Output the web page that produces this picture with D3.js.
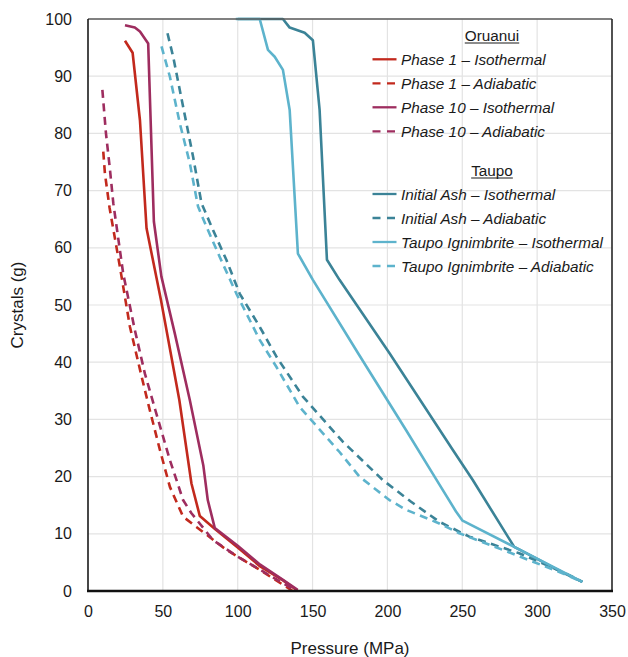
<!DOCTYPE html>
<html>
<head>
<meta charset="utf-8">
<script src="https://cdn.jsdelivr.net/npm/d3@7"></script>
<style>
  body { margin: 0; background: #fff; }
  text { font-family: Arial, "Liberation Sans", sans-serif; fill: #1a1a1a; }
</style>
</head>
<body>
<div id="chart"></div>
<script>
// [pressure (MPa), crystals (g)]
var phase1Iso = [[24.7,96.2],[29.8,94.1],[34.7,82.3],[39.1,63.4],[48.7,50.9],[61,33.4],[69.1,18.8],[74.7,13.1],[85,10.8],[100,7.6],[115,4.3],[130,1.9],[140.2,0]];
var phase1Adi = [[10.2,76.8],[11.3,73],[14.4,67],[21.3,56.7],[28,46.2],[35.8,37.5],[41.3,31.6],[48,24.7],[54.7,18.2],[63.5,13],[72.4,11.2],[92.4,7.2],[114.7,3.7],[136.7,0]];
var phase10Iso = [[24.7,98.9],[31.3,98.5],[34.7,97.8],[40.2,95.7],[44,64.6],[49,55],[58,45],[68,33.4],[77,22],[80,15.9],[84.7,11],[100,7.9],[115,4.6],[130,2],[140,0.2]];
var phase10Adi = [[9.6,87.6],[12,80],[14.7,73.6],[16.9,67.8],[23.5,55.5],[31.3,45.6],[38,38],[45,31.6],[54.7,22.9],[63.5,15.9],[69.1,13.6],[83.5,8.9],[100,6],[119,3.1],[139,0]];
var ashIso = [[100,100],[130.2,100],[134.7,98.5],[144.7,97.6],[150.2,96.3],[154.7,84.1],[159.6,57.9],[168,54.4],[201.3,41.6],[243.6,24.7],[257,19.4],[284.7,7.7],[300,5.6],[315,3.5],[330.2,1.6]];
var ashAdi = [[53.1,97.5],[56.9,93.4],[63.5,84.7],[70.2,75.9],[75.8,67.8],[83.5,63.1],[92.4,57.9],[101.3,52],[114.7,46.2],[125.8,41],[143.5,34],[170.2,26.1],[196.9,19.4],[215.8,15.6],[234.7,12.1],[254.7,9.5],[288,6.6],[319,3.1],[330.2,1.6]];
var ignIso = [[98.7,100],[114.7,100],[120.2,94.6],[124.7,93.4],[130.2,91.1],[134.7,84.1],[140.2,59],[150.2,54.4],[180.3,41.6],[212.5,28.1],[232.4,19.6],[245.8,13.9],[250.2,12.3],[284.7,7.7],[330.2,1.6]];
var ignAdi = [[49.1,95.2],[54.7,89.9],[61.3,81.8],[68,74.8],[73.5,67.2],[79.1,63.7],[88,58.4],[99.1,52],[114.7,43.9],[125.8,39.2],[141.3,32.2],[168,24.3],[181.3,20],[192.5,17.7],[201.3,15.9],[212.5,14.2],[234.7,11.8],[248,10.1],[276.9,7.2],[316.9,3.1],[330,1.6]];

var xTicks = [0, 50, 100, 150, 200, 250, 300, 350];
var yTicks = [0, 10, 20, 30, 40, 50, 60, 70, 80, 90, 100];

var red = "#c2291d", plum = "#9e2d5f", teal = "#3b8397", sky = "#5db3cc";

var series = [
    { name: "Phase 1 \u2013 Isothermal", data: phase1Iso, color: red, dash: false },
    { name: "Phase 1 \u2013 Adiabatic", data: phase1Adi, color: red, dash: true },
    { name: "Phase 10 \u2013 Isothermal", data: phase10Iso, color: plum, dash: false },
    { name: "Phase 10 \u2013 Adiabatic", data: phase10Adi, color: plum, dash: true },
    { name: "Initial Ash \u2013 Isothermal", data: ashIso, color: teal, dash: false },
    { name: "Initial Ash \u2013 Adiabatic", data: ashAdi, color: teal, dash: true },
    { name: "Taupo Ignimbrite \u2013 Isothermal", data: ignIso, color: sky, dash: false },
    { name: "Taupo Ignimbrite \u2013 Adiabatic", data: ignAdi, color: sky, dash: true }
];

var W = 628, H = 657;
var margin = { top: 19, right: 16, bottom: 66, left: 88 },
    width = W - margin.left - margin.right,
    height = H - margin.top - margin.bottom;

var svg = d3.select("#chart").append("svg")
    .attr("width", W)
    .attr("height", H);

var g = svg.append("g")
    .attr("transform", "translate(" + margin.left + "," + margin.top + ")");

var x = d3.scaleLinear().domain([0, 350]).range([0, width]);
var y = d3.scaleLinear().domain([0, 100]).range([height, 0]);

// gridlines
g.append("g").selectAll("line").data(yTicks.slice(1)).enter().append("line")
    .attr("x1", 0).attr("x2", width)
    .attr("y1", function(d) { return y(d); }).attr("y2", function(d) { return y(d); })
    .attr("stroke", "#e3e3e3").attr("stroke-width", 1.2);
g.append("g").selectAll("line").data(xTicks.slice(1)).enter().append("line")
    .attr("y1", 0).attr("y2", height)
    .attr("x1", function(d) { return x(d); }).attr("x2", function(d) { return x(d); })
    .attr("stroke", "#e3e3e3").attr("stroke-width", 1.2);

// axes (labels only)
var xAxis = g.append("g")
    .attr("transform", "translate(0," + height + ")")
    .call(d3.axisBottom(x).tickValues(xTicks).tickSize(0).tickPadding(15));
var yAxis = g.append("g")
    .call(d3.axisLeft(y).tickValues(yTicks).tickSize(0).tickPadding(16));
[xAxis, yAxis].forEach(function(a) {
    a.select(".domain").remove();
    a.selectAll("text").style("font-size", "16px")
        .style("font-family", "Arial, 'Liberation Sans', sans-serif").attr("fill", "#1a1a1a");
});

// curves
var line = d3.line()
    .x(function(d) { return x(d[0]); })
    .y(function(d) { return y(d[1]); });

g.append("g").selectAll("path").data(series).enter().append("path")
    .attr("d", function(d) { return line(d.data); })
    .attr("fill", "none")
    .attr("stroke", function(d) { return d.color; })
    .attr("stroke-width", 2.6)
    .attr("stroke-linejoin", "round")
    .attr("stroke-dasharray", function(d) { return d.dash ? "8,5.5" : null; });

// frame
g.append("line").attr("x1", 0).attr("x2", width).attr("y1", 0).attr("y2", 0)
    .attr("stroke", "#5a5a5a").attr("stroke-width", 1.4);
g.append("line").attr("x1", width).attr("x2", width).attr("y1", 0).attr("y2", height)
    .attr("stroke", "#2a2a2a").attr("stroke-width", 1.6);
g.append("line").attr("x1", 0).attr("x2", 0).attr("y1", 0).attr("y2", height)
    .attr("stroke", "#1a1a1a").attr("stroke-width", 1.6);
g.append("line").attr("x1", -1).attr("x2", width + 1).attr("y1", height).attr("y2", height)
    .attr("stroke", "#111").attr("stroke-width", 2.6);

// axis titles
svg.append("text")
    .attr("x", margin.left + width / 2).attr("y", 654)
    .attr("text-anchor", "middle").style("font-size", "17px")
    .text("Pressure (MPa)");
svg.append("text")
    .attr("transform", "translate(23," + (margin.top + height / 2) + ") rotate(-90)")
    .attr("text-anchor", "middle").style("font-size", "17px")
    .text("Crystals (g)");

// legend
var legend = svg.append("g");
var groups = [
    { title: "Oruanui", ty: 35, rows: series.slice(0, 4), y0: 59.3 },
    { title: "Taupo", ty: 170, rows: series.slice(4), y0: 194 }
];
groups.forEach(function(grp) {
    var t = legend.append("text")
        .attr("x", 492).attr("y", grp.ty + 5.5)
        .attr("text-anchor", "middle").style("font-size", "15.3px")
        .text(grp.title);
    var bb = t.node().getBBox();
    legend.append("line")
        .attr("x1", bb.x).attr("x2", bb.x + bb.width)
        .attr("y1", grp.ty + 8).attr("y2", grp.ty + 8)
        .attr("stroke", "#1a1a1a").attr("stroke-width", 1.2);
    grp.rows.forEach(function(s, i) {
        var ry = grp.y0 + i * 24;
        legend.append("line")
            .attr("x1", 372.5).attr("x2", 396.5)
            .attr("y1", ry).attr("y2", ry)
            .attr("stroke", s.color).attr("stroke-width", 2.3)
            .attr("stroke-dasharray", s.dash ? "8,6.5" : null);
        legend.append("text")
            .attr("x", 401).attr("y", ry + 5.5)
            .style("font-size", "15.3px").style("font-style", "italic")
            .text(s.name);
    });
});
</script>
</body>
</html>
